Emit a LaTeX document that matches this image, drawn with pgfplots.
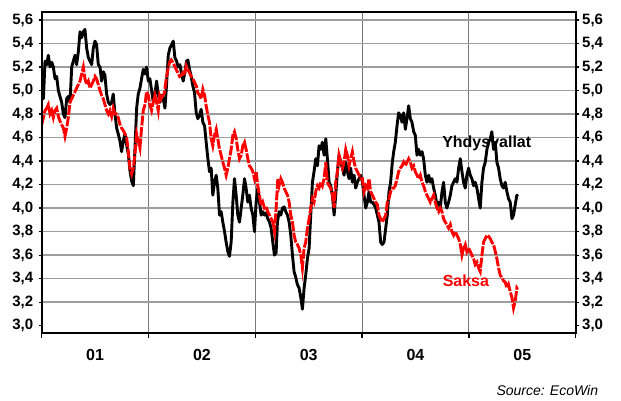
\documentclass[border=0pt]{standalone}
\usepackage{fontspec}
\setmainfont{Liberation Sans}
\usepackage{pgfplots}
\pgfplotsset{compat=1.18}
\usepackage{pgfplotstable}

\pgfplotstableread{
x y
2001.000 5.10
2001.016 4.93
2001.031 5.25
2001.047 5.22
2001.062 5.30
2001.078 5.20
2001.094 5.24
2001.109 5.20
2001.125 5.10
2001.140 5.12
2001.156 5.00
2001.171 4.95
2001.187 4.90
2001.203 4.80
2001.218 4.77
2001.234 4.93
2001.249 4.95
2001.265 4.90
2001.281 5.20
2001.296 5.25
2001.312 5.30
2001.327 5.22
2001.343 5.33
2001.359 5.50
2001.374 5.45
2001.390 5.50
2001.405 5.52
2001.421 5.36
2001.437 5.28
2001.452 5.25
2001.468 5.22
2001.483 5.36
2001.499 5.42
2001.514 5.39
2001.530 5.22
2001.546 5.20
2001.561 5.08
2001.577 5.16
2001.592 5.13
2001.608 4.97
2001.624 4.90
2001.639 4.88
2001.655 4.90
2001.670 4.97
2001.686 4.80
2001.702 4.68
2001.717 4.63
2001.733 4.57
2001.748 4.48
2001.764 4.57
2001.780 4.63
2001.795 4.54
2001.811 4.46
2001.826 4.32
2001.842 4.23
2001.858 4.19
2001.873 4.50
2001.889 4.85
2001.904 4.97
2001.920 5.02
2001.935 5.10
2001.951 5.18
2001.967 5.14
2001.982 5.20
2001.998 5.08
2002.013 5.10
2002.029 5.00
2002.045 4.90
2002.060 4.97
2002.076 5.08
2002.091 4.97
2002.107 4.90
2002.122 4.96
2002.138 4.93
2002.154 4.85
2002.169 5.05
2002.185 5.30
2002.200 5.36
2002.216 5.39
2002.232 5.42
2002.247 5.28
2002.263 5.25
2002.278 5.20
2002.294 5.22
2002.310 5.14
2002.325 5.08
2002.341 5.16
2002.356 5.25
2002.369 5.26
2002.384 5.18
2002.400 5.12
2002.415 5.04
2002.431 4.98
2002.447 4.81
2002.462 4.76
2002.478 4.79
2002.493 4.84
2002.509 4.73
2002.525 4.70
2002.540 4.56
2002.556 4.42
2002.571 4.31
2002.587 4.34
2002.602 4.11
2002.618 4.22
2002.634 4.28
2002.649 4.17
2002.665 3.94
2002.680 3.97
2002.696 3.88
2002.712 3.80
2002.727 3.71
2002.743 3.63
2002.758 3.59
2002.774 3.71
2002.790 4.05
2002.805 4.25
2002.821 4.11
2002.836 3.94
2002.852 3.88
2002.868 4.00
2002.883 4.11
2002.899 4.25
2002.914 4.17
2002.930 4.05
2002.945 4.11
2002.961 4.00
2002.977 3.94
2002.992 3.80
2003.008 4.05
2003.023 4.17
2003.039 4.05
2003.055 3.94
2003.070 3.97
2003.086 3.94
2003.101 3.96
2003.117 3.91
2003.133 3.88
2003.148 3.83
2003.164 3.71
2003.179 3.60
2003.195 3.62
2003.207 3.88
2003.223 3.97
2003.239 3.94
2003.254 4.00
2003.270 4.01
2003.285 3.97
2003.301 3.94
2003.317 3.88
2003.332 3.77
2003.348 3.60
2003.363 3.46
2003.379 3.41
2003.394 3.35
2003.410 3.32
2003.426 3.24
2003.441 3.14
2003.457 3.32
2003.472 3.43
2003.488 3.57
2003.504 3.66
2003.519 3.94
2003.535 4.22
2003.550 4.31
2003.566 4.42
2003.582 4.36
2003.597 4.53
2003.613 4.50
2003.628 4.56
2003.644 4.45
2003.660 4.59
2003.675 4.42
2003.691 4.22
2003.706 4.19
2003.722 4.11
2003.738 3.94
2003.753 4.11
2003.769 4.31
2003.784 4.45
2003.800 4.39
2003.816 4.34
2003.831 4.28
2003.847 4.39
2003.862 4.31
2003.878 4.25
2003.893 4.34
2003.909 4.22
2003.925 4.28
2003.940 4.17
2003.956 4.22
2003.971 4.25
2003.987 4.28
2004.003 4.22
2004.018 4.11
2004.034 4.00
2004.049 4.05
2004.065 4.14
2004.080 4.05
2004.096 4.05
2004.112 4.03
2004.127 4.00
2004.143 3.94
2004.158 3.88
2004.174 3.71
2004.189 3.69
2004.205 3.71
2004.221 3.83
2004.236 3.94
2004.252 4.14
2004.267 4.22
2004.283 4.39
2004.296 4.48
2004.311 4.56
2004.327 4.70
2004.342 4.81
2004.358 4.79
2004.374 4.73
2004.389 4.81
2004.405 4.67
2004.420 4.76
2004.436 4.87
2004.452 4.76
2004.467 4.73
2004.483 4.65
2004.498 4.62
2004.514 4.45
2004.529 4.50
2004.545 4.45
2004.561 4.48
2004.576 4.42
2004.592 4.28
2004.607 4.22
2004.623 4.28
2004.639 4.22
2004.654 4.25
2004.670 4.17
2004.685 4.11
2004.701 4.03
2004.717 4.05
2004.732 4.00
2004.748 4.14
2004.763 4.22
2004.779 4.05
2004.794 4.00
2004.810 4.05
2004.826 4.11
2004.841 4.19
2004.857 4.22
2004.872 4.25
2004.888 4.22
2004.904 4.34
2004.919 4.42
2004.935 4.31
2004.950 4.22
2004.966 4.17
2004.981 4.28
2004.997 4.34
2005.013 4.28
2005.028 4.25
2005.044 4.19
2005.059 4.22
2005.075 4.17
2005.091 4.08
2005.106 4.00
2005.122 4.22
2005.137 4.34
2005.153 4.39
2005.169 4.50
2005.184 4.56
2005.200 4.59
2005.215 4.65
2005.231 4.50
2005.247 4.56
2005.262 4.39
2005.278 4.34
2005.293 4.25
2005.309 4.19
2005.325 4.17
2005.340 4.22
2005.356 4.14
2005.371 4.08
2005.387 4.05
2005.403 3.91
2005.418 3.94
2005.434 4.03
2005.449 4.11
2005.456 4.10
}\usdata

\pgfplotstableread{
x y
2001.000 4.71
2001.016 4.77
2001.031 4.83
2001.047 4.85
2001.062 4.88
2001.078 4.80
2001.094 4.83
2001.109 4.77
2001.125 4.83
2001.140 4.85
2001.156 4.78
2001.171 4.74
2001.187 4.71
2001.203 4.68
2001.218 4.61
2001.234 4.68
2001.249 4.77
2001.265 4.90
2001.281 4.93
2001.296 4.96
2001.312 4.99
2001.327 5.02
2001.343 5.05
2001.359 5.08
2001.374 5.14
2001.390 5.20
2001.405 5.10
2001.421 5.05
2001.437 5.08
2001.452 5.02
2001.468 5.05
2001.483 5.08
2001.499 5.12
2001.514 5.10
2001.530 5.05
2001.546 5.00
2001.561 4.96
2001.577 4.93
2001.592 4.88
2001.608 4.83
2001.624 4.80
2001.639 4.83
2001.655 4.78
2001.670 4.85
2001.686 4.80
2001.702 4.80
2001.717 4.77
2001.733 4.71
2001.748 4.68
2001.764 4.66
2001.780 4.63
2001.795 4.60
2001.811 4.48
2001.826 4.34
2001.842 4.29
2001.858 4.34
2001.873 4.46
2001.889 4.63
2001.904 4.57
2001.920 4.51
2001.935 4.68
2001.951 4.83
2001.967 4.88
2001.982 4.99
2001.998 4.96
2002.013 4.88
2002.029 4.83
2002.045 4.90
2002.060 4.96
2002.076 4.90
2002.091 4.83
2002.104 4.96
2002.119 4.93
2002.135 4.96
2002.150 4.98
2002.166 5.10
2002.182 5.18
2002.197 5.24
2002.213 5.26
2002.228 5.24
2002.244 5.21
2002.259 5.18
2002.275 5.15
2002.291 5.12
2002.306 5.13
2002.322 5.15
2002.337 5.13
2002.353 5.21
2002.369 5.18
2002.384 5.15
2002.400 5.12
2002.415 5.10
2002.431 5.07
2002.447 5.04
2002.462 4.98
2002.478 4.96
2002.493 4.93
2002.509 5.01
2002.525 4.96
2002.540 4.87
2002.556 4.79
2002.571 4.73
2002.587 4.59
2002.602 4.53
2002.618 4.62
2002.634 4.67
2002.649 4.59
2002.665 4.50
2002.680 4.45
2002.696 4.39
2002.712 4.34
2002.727 4.28
2002.743 4.34
2002.758 4.42
2002.774 4.50
2002.790 4.62
2002.805 4.65
2002.821 4.59
2002.836 4.50
2002.852 4.42
2002.868 4.45
2002.883 4.53
2002.899 4.56
2002.914 4.50
2002.930 4.42
2002.945 4.36
2002.961 4.34
2002.977 4.31
2002.992 4.25
2003.008 4.31
2003.023 4.19
2003.039 4.11
2003.055 4.02
2003.070 4.05
2003.086 4.00
2003.101 4.01
2003.117 3.97
2003.133 3.94
2003.148 3.91
2003.164 3.88
2003.179 3.80
2003.195 4.00
2003.211 4.25
2003.223 4.19
2003.239 4.25
2003.254 4.22
2003.270 4.17
2003.285 4.14
2003.301 4.11
2003.317 4.05
2003.332 3.94
2003.348 3.88
2003.363 3.77
2003.379 3.71
2003.394 3.69
2003.410 3.66
2003.426 3.60
2003.441 3.49
2003.457 3.66
2003.472 3.71
2003.488 3.83
2003.504 3.91
2003.519 4.00
2003.535 4.08
2003.550 4.05
2003.566 4.14
2003.582 4.19
2003.597 4.17
2003.613 4.22
2003.628 4.19
2003.644 4.25
2003.660 4.39
2003.675 4.22
2003.691 4.19
2003.706 4.17
2003.722 4.11
2003.738 4.00
2003.753 4.22
2003.769 4.31
2003.784 4.45
2003.800 4.39
2003.816 4.34
2003.831 4.39
2003.847 4.50
2003.862 4.45
2003.878 4.36
2003.893 4.42
2003.909 4.48
2003.925 4.39
2003.940 4.34
2003.956 4.31
2003.971 4.28
2003.987 4.25
2004.003 4.25
2004.018 4.14
2004.034 4.19
2004.049 4.17
2004.065 4.25
2004.080 4.14
2004.096 4.11
2004.112 4.08
2004.127 4.05
2004.143 4.03
2004.158 3.94
2004.174 3.91
2004.189 3.88
2004.205 3.91
2004.221 3.94
2004.236 4.05
2004.252 4.08
2004.267 4.14
2004.283 4.17
2004.296 4.17
2004.311 4.19
2004.327 4.25
2004.342 4.31
2004.358 4.34
2004.374 4.36
2004.389 4.39
2004.405 4.36
2004.420 4.39
2004.436 4.42
2004.452 4.39
2004.467 4.34
2004.483 4.36
2004.498 4.31
2004.514 4.28
2004.529 4.25
2004.545 4.28
2004.561 4.22
2004.576 4.19
2004.592 4.14
2004.607 4.11
2004.623 4.08
2004.639 4.05
2004.654 4.08
2004.670 4.11
2004.685 4.05
2004.701 4.00
2004.717 3.97
2004.732 4.00
2004.748 3.97
2004.763 3.91
2004.779 3.88
2004.794 3.86
2004.810 3.83
2004.826 3.86
2004.841 3.80
2004.857 3.77
2004.872 3.80
2004.888 3.77
2004.904 3.74
2004.919 3.69
2004.935 3.60
2004.950 3.66
2004.966 3.69
2004.981 3.63
2004.997 3.66
2005.013 3.63
2005.028 3.60
2005.044 3.57
2005.059 3.52
2005.075 3.54
2005.091 3.49
2005.106 3.46
2005.122 3.60
2005.137 3.71
2005.153 3.74
2005.169 3.77
2005.184 3.76
2005.200 3.74
2005.215 3.71
2005.231 3.69
2005.247 3.63
2005.262 3.57
2005.278 3.49
2005.293 3.43
2005.309 3.41
2005.325 3.38
2005.340 3.37
2005.356 3.32
2005.371 3.35
2005.387 3.29
2005.403 3.24
2005.418 3.15
2005.434 3.21
2005.449 3.32
2005.456 3.31
}\dedata

\begin{document}
\begin{tikzpicture}
\useasboundingbox (0,0) rectangle (621bp,401bp);
\pgfplotsset{
  common/.style={
    at={(41.7bp,68.3bp)}, anchor=south west,
    scale only axis, width=534bp, height=320.7bp,
    xmin=2001, xmax=2006, ymin=2.94, ymax=5.668,
    ytick={3.2,3.4,...,5.61},
    extra y ticks={3.0},
    /pgf/number format/.cd, fixed, fixed zerofill, precision=1, use comma, assume math mode=true,
    /pgfplots/.cd,
    tick align=outside,
    y tick label style={font=\fontsize{15bp}{18bp}\selectfont\bfseries},
    x tick label style={font=\fontsize{16bp}{19bp}\selectfont\bfseries},
  },
}
\begin{axis}[common,
  axis line style={line width=1.8bp, black},
  major tick length=5bp,
  xtick={2001,2002,2003,2004,2005,2006}, xticklabels={},
  extra x ticks={2001.5,2002.5,2003.5,2004.5,2005.5},
  extra x tick labels={01,02,03,04,05},
  extra x tick style={grid=none, tick style={draw=none},
     xticklabel style={anchor=center, yshift=-17bp}},
  extra y tick style={grid=none},
  xtick pos=bottom, ytick pos=left,
  yticklabels={}, extra y tick labels={},
  xmajorgrids, ymajorgrids,
  every axis x grid/.style={draw=gray!95!black, line width=1.1bp},
  every axis y grid/.style={draw=black!38, line width=1.3bp},
  x tick style={line width=1.5bp, black},
  y tick style={draw=none},
]
\addplot[black, line width=2.9bp, line join=round] table[x=x,y=y] {\usdata};
\addplot[red, line width=2.9bp, dash pattern=on 10bp off 1.5bp] table[x=x,y=y] {\dedata};
\node[font=\fontsize{16bp}{19bp}\selectfont\bfseries, text=black, inner sep=0pt] at (axis cs:2005.167,4.551) {Yhdysvallat};
\node[font=\fontsize{16bp}{19bp}\selectfont\bfseries, text=red, inner sep=0pt] at (axis cs:2004.972,3.383) {Saksa};
\end{axis}
\begin{axis}[common,
  axis x line=none, axis y line=box,
  axis line style={line width=1.8bp, black},
  major tick length=3bp,
  xtick=\empty,
  ytick pos=both, yticklabel pos=left,
  y tick style={line width=1.2bp, black},
  yticklabel style={anchor=east, xshift=-2bp},
]
\end{axis}
\begin{axis}[common,
  axis x line=none, axis y line=box,
  axis line style={draw=none},
  major tick length=3bp,
  xtick=\empty,
  ytick pos=right, yticklabel pos=right,
  y tick style={draw=none},
  yticklabel style={anchor=west, xshift=0bp},
]
\end{axis}
\node[anchor=east, inner sep=0pt, font=\fontsize{14bp}{17bp}\selectfont\itshape] at (598.3bp,10.3bp) {Source: EcoWin};
\end{tikzpicture}
\end{document}
